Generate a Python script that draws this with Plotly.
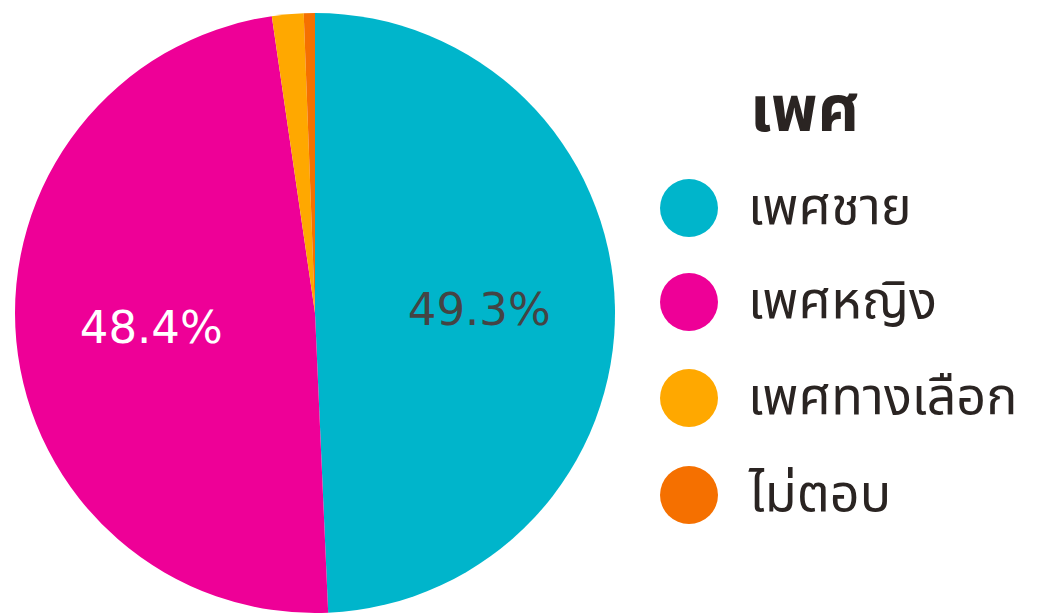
import plotly.graph_objects as go

W, H = 1037, 615
OFF = 8  # page body margin

categories = ["เพศชาย", "เพศหญิง", "เพศทางเลือก", "ไม่ตอบ"]
values = [49.3, 48.4, 1.7, 0.6]
colors = ["#00B5CB", "#EE0097", "#FFA800", "#F57000"]
legend_title = "เพศ"
NB = "\u00a0"
text_templates = [NB * 2 + "%{percent:.1%}", "%{percent:.1%}" + NB * 2, "", ""]
text_colors = ["#444444", "#FFFFFF", "#444444", "#444444"]

def px(x):
    return (x - OFF) / W

def py(y):
    return 1 - (y - OFF) / H

fig = go.Figure()
fig.add_trace(go.Pie(
    labels=categories,
    values=values,
    sort=False,
    direction="clockwise",
    rotation=0,
    marker=dict(colors=colors, line=dict(width=0)),
    texttemplate=text_templates,
    textposition="inside",
    insidetextfont=dict(family="DejaVu Sans", size=45, color=text_colors),
    insidetextorientation="horizontal",
    showlegend=False,
    hoverinfo="label+percent",
    domain=dict(x=[px(15), px(615)], y=[py(613), py(13)]),
))

thai_font = "Noto Sans Thai, Noto Sans, sans-serif"
shapes = []
annotations = [dict(
    x=px(748), y=py(112), xref="paper", yref="paper",
    text="<b>" + legend_title + "</b>", showarrow=False,
    xanchor="left", yanchor="middle",
    font=dict(family=thai_font, size=64, color="#2A2422", weight=900),
)]
row_y = [208, 302, 398, 495]
for i, (lab, col) in enumerate(zip(categories, colors)):
    cy = row_y[i]
    shapes.append(dict(
        type="circle", xref="paper", yref="paper",
        x0=px(660), x1=px(718), y0=py(cy + 29), y1=py(cy - 29),
        fillcolor=col, line=dict(width=0),
    ))
    annotations.append(dict(
        x=px(746), y=py(cy), xref="paper", yref="paper",
        text=lab, showarrow=False, xanchor="left", yanchor="middle",
        font=dict(family=thai_font, size=52, color="#2A2422"),
    ))

fig.update_layout(
    width=W, height=H,
    margin=dict(l=0, r=0, t=0, b=0),
    paper_bgcolor="white", plot_bgcolor="white",
    shapes=shapes, annotations=annotations,
)

fig.write_html("out.html")
